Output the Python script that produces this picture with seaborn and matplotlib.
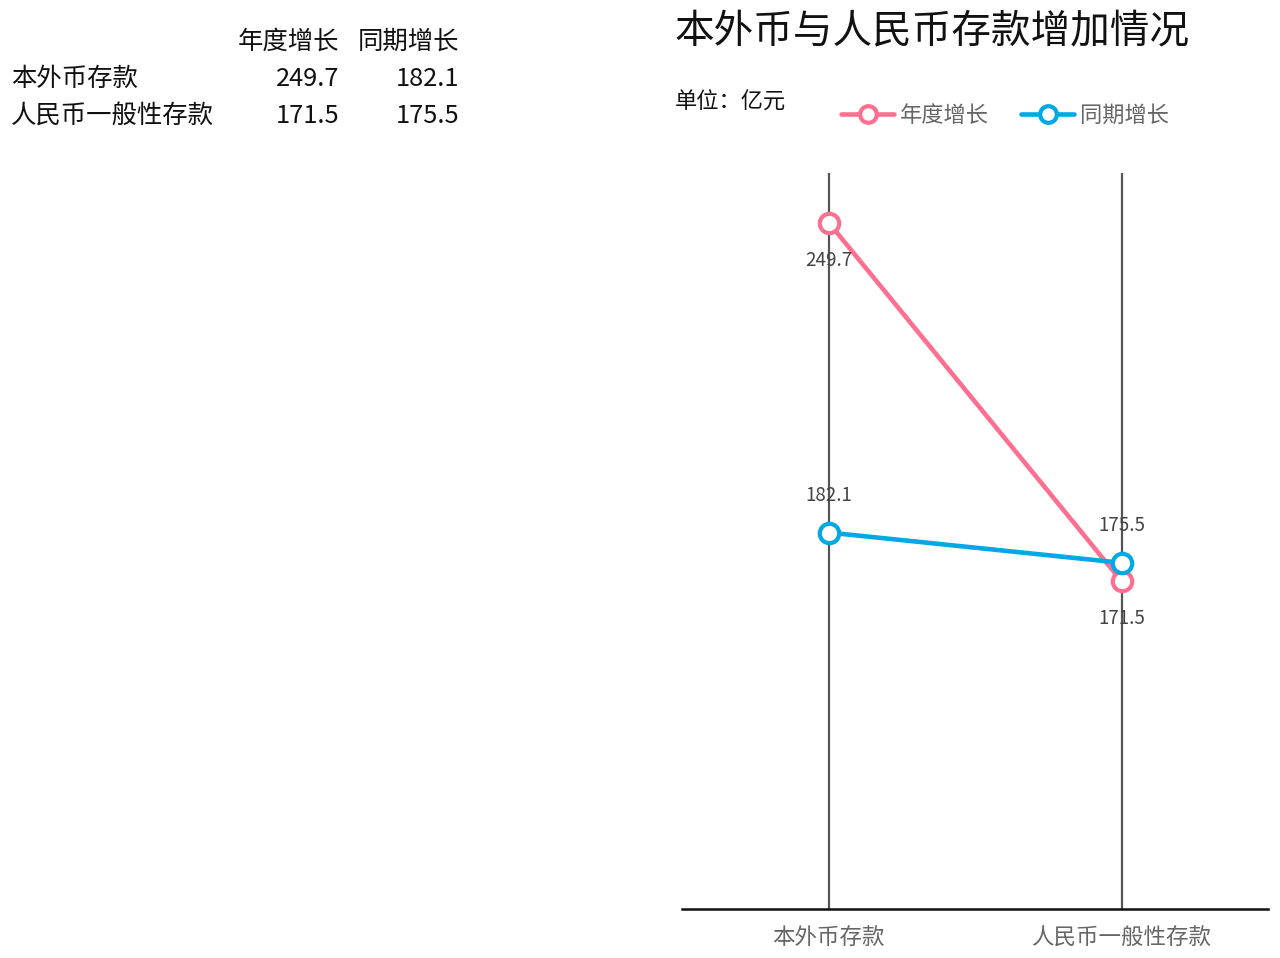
import matplotlib
matplotlib.use("Agg")
import matplotlib.pyplot as plt
import seaborn as sns
import pandas as pd
from matplotlib.lines import Line2D

categories = ["本外币存款", "人民币一般性存款"]
series_names = ["年度增长", "同期增长"]
annual_growth = [249.7, 171.5]
period_growth = [182.1, 175.5]
colors = ["#FF7090", "#00A8E6"]

sns.set_theme(style="white")
plt.rcParams['font.family'] = ['Noto Sans CJK SC', 'DejaVu Sans']

fig = plt.figure(figsize=(12.8, 9.58), dpi=100)
ax = fig.add_axes([0.533, 0.0511, 0.4576, 0.7683])

df = pd.DataFrame({
    "pos": list(range(len(categories))) * 2,
    "cat": categories * 2,
    "value": annual_growth + period_growth,
    "series": [series_names[0]] * len(categories) + [series_names[1]] * len(categories),
})

for i in range(len(categories)):
    ax.axvline(i, color="#555555", lw=1.6, zorder=1)

sns.lineplot(data=df, x="pos", y="value", hue="series", palette=colors,
             marker="o", markersize=14, markerfacecolor="white",
             markeredgewidth=3, linewidth=3.3, ax=ax, legend=False, zorder=3)
for ln, c in zip(ax.get_lines()[len(categories):], colors):
    ln.set_markeredgecolor(c)

ax.set_xlim(-0.5, 1.5)
ax.set_ylim(100, 260.5)
ax.set_xticks(range(len(categories)))
ax.set_xticklabels(categories, fontsize=16.2, color="#666666")
ax.tick_params(axis="x", length=0, pad=13)
ax.set_yticks([])
ax.set_xlabel("")
ax.set_ylabel("")
for s in ["top", "left", "right"]:
    ax.spines[s].set_visible(False)
ax.spines["bottom"].set_color("#111111")
ax.spines["bottom"].set_linewidth(1.8)

# data labels
for i in range(len(categories)):
    a, p = annual_growth[i], period_growth[i]
    ax.annotate(f"{a}", (i, a), xytext=(0, -27), textcoords="offset points",
                ha="center", va="center", fontsize=13.5, color="#444444", zorder=5)
    ax.annotate(f"{p}", (i, p), xytext=(0, 27), textcoords="offset points",
                ha="center", va="center", fontsize=13.5, color="#444444", zorder=5)

# title & unit
fig.text(675/1280, 1 - 32/958, "本外币与人民币存款增加情况", fontsize=28.5, color="#111111",
         ha="left", va="center")
fig.text(675/1280, 1 - 102/958, "单位：亿元", fontsize=16, color="#111111", ha="left", va="center")

handles = [Line2D([0], [0], color=c, lw=3.3, marker="o", markersize=12,
                  markerfacecolor="white", markeredgecolor=c, markeredgewidth=3)
           for c in colors]
leg = fig.legend(handles, series_names, loc="center left", bbox_to_anchor=(821/1280, 1 - 115/958),
                 ncol=2, frameon=False, fontsize=16, handlelength=2.4, columnspacing=1.45,
                 handletextpad=0.25)
for t in leg.get_texts():
    t.set_color("#666666")

# left table
fs = 18.3
fig.text(339/1280, 1 - 42/958, series_names[0], fontsize=fs, ha="right", va="center", color="#111111")
fig.text(459/1280, 1 - 42/958, series_names[1], fontsize=fs, ha="right", va="center", color="#111111")
for r, cat in enumerate(categories):
    y = 1 - (79 + 37 * r) / 958
    fig.text(11/1280, y, cat, fontsize=fs, ha="left", va="center", color="#111111")
    fig.text(339/1280, y, f"{annual_growth[r]}", fontsize=fs, ha="right", va="center", color="#111111")
    fig.text(459/1280, y, f"{period_growth[r]}", fontsize=fs, ha="right", va="center", color="#111111")

fig.savefig("out.png", dpi=100, facecolor="white")
